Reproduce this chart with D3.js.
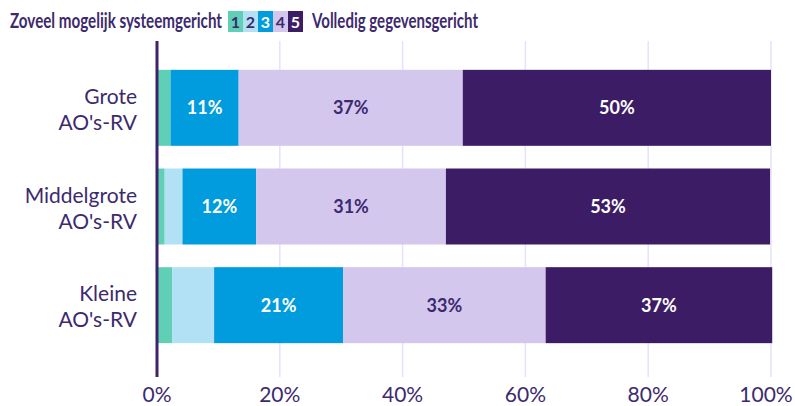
<!DOCTYPE html>
<html>
<head>
<meta charset="utf-8">
<script src="https://cdn.jsdelivr.net/npm/d3@7"></script>
<style>
  body { margin: 0; background: #fff; }
  text { font-family: Lato, "Open Sans", sans-serif; }
</style>
</head>
<body>
<script>
var categories = ["Grote\nAO's-RV", "Middelgrote\nAO's-RV", "Kleine\nAO's-RV"];
var keys = ["1", "2", "3", "4", "5"];
var score1 = [2.2, 1.25, 2.5];
var score2 = [0, 2.9, 6.8];
var score3 = [11.1, 12, 21];
var score4 = [36.5, 30.9, 33];
var score5 = [50.2, 52.8, 36.9];
var labels3 = ["11%", "12%", "21%"];
var labels4 = ["37%", "31%", "33%"];
var labels5 = ["50%", "53%", "37%"];
var ticks = [0, 20, 40, 60, 80, 100];

var colors = ["#5fd0b5", "#b2e0f4", "#009cdd", "#d4c7ee", "#3d1c66"];
var textColors = [null, null, "#fff", "#3d2a6e", "#fff"];
var ink = "#3d2a6e";

var w = 795, h = 406;
var left = 157, right = 771;

var rows = categories.map(function(c, i) {
	return { cat: c, "1": score1[i], "2": score2[i], "3": score3[i], "4": score4[i], "5": score5[i],
		labels: [null, null, labels3[i], labels4[i], labels5[i]] };
});

var svg = d3.select("body").append("svg")
	.attr("width", w)
	.attr("height", h);

var x = d3.scaleLinear().domain([0, 100]).range([left, right]);
var y = d3.scaleBand().domain(categories).range([58, 355]).paddingInner(0.23).paddingOuter(0.12);

// grid
svg.selectAll("line.grid")
	.data(ticks.slice(1))
	.enter().append("line")
	.attr("class", "grid")
	.attr("x1", function(d) { return x(d); })
	.attr("x2", function(d) { return x(d); })
	.attr("y1", 41)
	.attr("y2", 377)
	.attr("stroke", "#e6e2fa")
	.attr("stroke-width", 1.5);

var stack = d3.stack().keys(keys)(rows);

var layers = svg.selectAll("g.layer")
	.data(stack)
	.enter().append("g")
	.attr("fill", function(d, i) { return colors[i]; });

layers.selectAll("rect")
	.data(function(d) { return d; })
	.enter().append("rect")
	.attr("x", function(d) { return x(d[0]); })
	.attr("y", function(d) { return y(d.data.cat); })
	.attr("width", function(d) { return x(d[1]) - x(d[0]); })
	.attr("height", y.bandwidth());

layers.each(function(layer, k) {
	if (!textColors[k]) return;
	d3.select(this).selectAll("text")
		.data(layer)
		.enter().append("text")
		.attr("x", function(d) { return (x(d[0]) + x(d[1])) / 2; })
		.attr("y", function(d) { return y(d.data.cat) + y.bandwidth() / 2 + 6.5; })
		.attr("text-anchor", "middle")
		.attr("font-size", 18)
		.attr("font-weight", "bold")
		.attr("fill", textColors[k])
		.text(function(d) { return d.data.labels[k]; });
});

// axis line
svg.append("line")
	.attr("x1", x(0)).attr("x2", x(0))
	.attr("y1", 41).attr("y2", 377)
	.attr("stroke", "#3d2369")
	.attr("stroke-width", 3);

// category labels
categories.forEach(function(c) {
	var parts = c.split("\n");
	var cy = y(c) + y.bandwidth() / 2;
	var t = svg.append("text")
		.attr("text-anchor", "end")
		.attr("font-size", 21)
		.attr("fill", ink);
	parts.forEach(function(p, j) {
		t.append("tspan")
			.attr("x", 137)
			.attr("y", cy - 4 + j * 26)
			.text(p);
	});
});

// x tick labels
svg.selectAll("text.tick")
	.data(ticks)
	.enter().append("text")
	.attr("class", "tick")
	.attr("x", function(d) { return d == 100 ? x(d) - 5 : x(d); })
	.attr("y", 402)
	.attr("text-anchor", "middle")
	.attr("font-size", 21)
	.attr("fill", ink)
	.text(function(d) { return d + "%"; });

// legend title
svg.append("text")
	.attr("x", 10).attr("y", 28)
	.attr("font-size", 21)
	.attr("font-weight", "bold")
	.attr("fill", ink)
	.attr("textLength", 212)
	.attr("lengthAdjust", "spacingAndGlyphs")
	.text("Zoveel mogelijk systeemgericht");

var lg = svg.selectAll("g.key")
	.data(keys)
	.enter().append("g")
	.attr("transform", function(d, i) { return "translate(" + (228 + i * 15) + ",11)"; });
lg.append("rect").attr("width", 15).attr("height", 21)
	.attr("fill", function(d, i) { return colors[i]; });
lg.append("text").attr("x", 7.5).attr("y", 17)
	.attr("text-anchor", "middle")
	.attr("font-size", 16)
	.attr("font-weight", "bold")
	.attr("fill", function(d, i) { return i == 2 || i == 4 ? "#fff" : ink; })
	.text(function(d) { return d; });

svg.append("text")
	.attr("x", 312).attr("y", 28)
	.attr("font-size", 21)
	.attr("font-weight", "bold")
	.attr("fill", ink)
	.attr("textLength", 166)
	.attr("lengthAdjust", "spacingAndGlyphs")
	.text("Volledig gegevensgericht");
</script>
</body>
</html>
